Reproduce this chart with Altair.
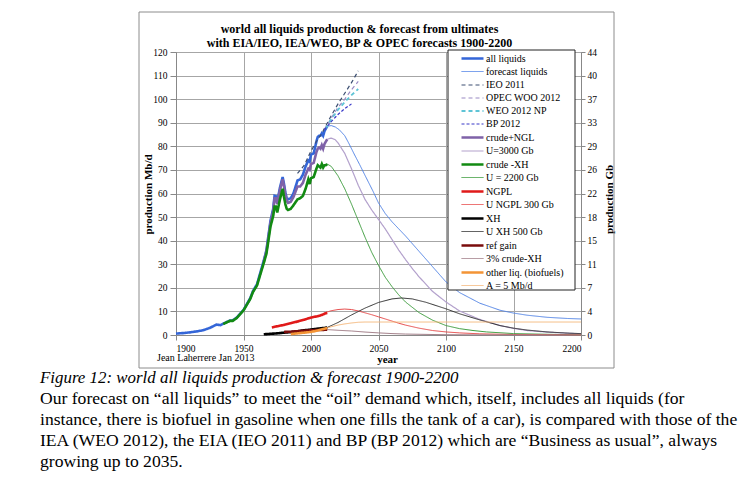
import altair as alt
import pandas as pd

FONT = "Liberation Serif"

title_lines = ["world all liquids production & forecast from ultimates",
               "with EIA/IEO, IEA/WEO, BP & OPEC forecasts 1900-2200"]

series_order = ["all liquids", "forecast liquids", "IEO 2011", "OPEC WOO 2012", "WEO 2012  NP",
                "BP 2012", "crude+NGL", "U=3000 Gb", "crude -XH", "U = 2200 Gb", "NGPL",
                "U NGPL 300 Gb", "XH", "U XH 500 Gb", "ref gain", "3% crude-XH",
                "other liq. (biofuels)", "A = 5 Mb/d"]
colors = ["#3466d8", "#5284e6", "#3c4f72", "#9a8ac4", "#5ec4d6", "#3838c8", "#7f62a8", "#b3a1cc",
          "#128a12", "#3c9c3c", "#e01a1a", "#e64848", "#000000", "#303030", "#7a0c0c", "#a07c86",
          "#f39436", "#f5b77a"]
dashes = [[1, 0], [1, 0], [4, 3], [4, 3], [4, 3], [3, 2], [1, 0], [1, 0], [1, 0], [1, 0], [1, 0],
          [1, 0], [1, 0], [1, 0], [1, 0], [1, 0], [1, 0], [1, 0]]
widths = [2.6, 1.0, 1.2, 1.2, 1.8, 1.2, 2.6, 1.2, 2.6, 1.0, 2.6, 1.0, 2.6, 1.0, 2.6, 1.0, 2.6, 1.0]

# ---- historical (thick) ----
all_liq_years = [1900, 1905, 1910, 1915, 1920, 1925, 1930, 1933, 1935, 1938, 1940, 1942, 1945, 1950,
                 1955, 1957, 1960, 1962, 1965, 1967, 1970, 1972, 1973, 1974, 1975, 1977, 1979, 1980,
                 1981, 1982, 1983, 1985, 1987, 1990, 1992, 1994, 1996, 1998, 1999, 2000, 2002, 2004,
                 2005, 2006, 2007, 2008, 2009, 2010, 2011, 2012]
all_liq_vals = [0.6, 0.8, 1.1, 1.5, 2.0, 3.0, 4.4, 4.2, 4.8, 5.6, 6.1, 6.2, 7.4, 10.6,
                15.6, 18.6, 21.5, 25.5, 31.5, 36.0, 48.5, 53.5, 59.0, 58.8, 56.5, 62.5, 67.0, 64.0,
                60.5, 58.0, 57.5, 58.0, 60.0, 65.5, 66.0, 68.0, 71.5, 74.0, 73.5, 76.5, 77.0, 82.0,
                84.0, 84.5, 84.5, 85.5, 84.5, 86.5, 87.5, 88.5]

crude_ngl_years = [1965, 1967, 1970, 1972, 1973, 1974, 1975, 1977, 1979, 1980, 1981, 1982, 1983, 1985,
                   1987, 1990, 1992, 1994, 1996, 1998, 1999, 2000, 2002, 2004, 2005, 2006, 2007, 2008,
                   2009, 2010, 2011, 2012]
crude_ngl_vals = [31.0, 35.5, 47.5, 52.5, 58.0, 58.0, 55.5, 61.5, 66.0, 63.0, 59.5, 57.0, 56.0, 56.5,
                  58.5, 63.0, 63.0, 64.5, 68.0, 70.5, 70.0, 72.5, 73.0, 77.5, 79.0, 79.5, 79.0, 80.5,
                  79.0, 81.0, 82.0, 83.0]

crude_xh_years = [1935, 1938, 1940, 1942, 1945, 1950, 1955, 1957, 1960, 1962, 1965, 1967, 1970, 1972,
                  1973, 1974, 1975, 1977, 1979, 1980, 1981, 1982, 1983, 1985, 1987, 1990, 1992, 1994,
                  1996, 1998, 1999, 2000, 2002, 2004, 2005, 2006, 2007, 2008, 2009, 2010, 2011, 2012]
crude_xh_vals = [4.6, 5.5, 6.0, 6.0, 7.2, 10.4, 15.3, 18.2, 21.0, 24.8, 30.5, 34.5, 46.0, 50.5,
                 54.5, 54.5, 52.0, 57.5, 62.0, 58.5, 55.5, 53.5, 53.0, 53.5, 55.0, 57.5, 58.0, 59.0,
                 62.0, 66.0, 64.0, 66.5, 67.0, 70.5, 72.0, 71.5, 71.0, 72.5, 71.0, 72.0, 72.0, 72.5]

ngpl_years = [1971, 1975, 1980, 1985, 1990, 1995, 2000, 2005, 2008, 2010, 2012]
ngpl_vals = [3.2, 3.7, 4.3, 5.0, 5.7, 6.5, 7.4, 8.0, 8.5, 9.0, 9.4]

xh_years = [1965, 1970, 1975, 1980, 1985, 1990, 1995, 2000, 2005, 2010, 2012]
xh_vals = [0.3, 0.5, 0.7, 1.0, 1.2, 1.6, 2.0, 2.3, 2.7, 3.0, 3.2]

refgain_years = [1980, 1985, 1990, 1995, 2000, 2005, 2010, 2012]
refgain_vals = [1.3, 1.4, 1.6, 1.8, 2.0, 2.1, 2.2, 2.3]

other_years = [1985, 1990, 1995, 2000, 2005, 2010, 2012]
other_vals = [0.4, 0.7, 1.0, 1.3, 1.9, 2.7, 3.0]

# ---- forecasts (thin) ----
fc_liq_years = [2012, 2015, 2018, 2021, 2025, 2028, 2032, 2036, 2040, 2043, 2046, 2050, 2055, 2060,
                2065, 2070, 2080, 2090, 2100, 2110, 2125, 2140, 2150, 2160, 2175, 2190, 2200]
fc_liq_vals = [88.5, 88.8, 88.2, 87.0, 84.5, 81.3, 76.7, 72.3, 67.7, 64.3, 60.9, 56.0, 51.5, 48.0,
               45.0, 42.0, 35.5, 29.0, 22.5, 18.0, 13.5, 10.5, 9.3, 8.4, 7.5, 7.0, 6.8]

u3000_years = [2012, 2015, 2018, 2020, 2025, 2030, 2035, 2040, 2045, 2050, 2055, 2060, 2065, 2070,
               2075, 2080, 2090, 2100, 2110, 2125, 2140, 2150, 2160, 2175, 2200]
u3000_vals = [83.0, 83.5, 82.8, 81.5, 77.0, 70.5, 63.5, 57.5, 53.0, 49.0, 45.0, 40.5, 36.0, 32.0,
              28.2, 24.7, 18.5, 14.0, 10.2, 6.6, 4.0, 2.8, 1.9, 1.2, 0.5]

u2200_years = [2012, 2015, 2020, 2025, 2030, 2035, 2040, 2045, 2050, 2055, 2060, 2065, 2070, 2080,
               2090, 2100, 2110, 2120, 2130, 2150, 2175, 2200]
u2200_vals = [72.5, 71.5, 67.5, 62.0, 55.5, 48.5, 41.5, 35.0, 29.5, 24.5, 20.5, 17.0, 14.0, 9.5,
              6.3, 4.0, 2.7, 1.9, 1.3, 0.6, 0.3, 0.1]

u_ngpl_years = [2010, 2015, 2020, 2025, 2030, 2035, 2040, 2045, 2050, 2055, 2060, 2065, 2070, 2080,
                2090, 2100, 2110, 2125, 2150, 2200]
u_ngpl_vals = [9.4, 10.3, 10.8, 11.0, 10.8, 10.2, 9.4, 8.6, 7.7, 6.8, 5.9, 5.0, 4.2, 2.9,
               1.9, 1.3, 0.9, 0.5, 0.2, 0.05]

u_xh_years = [2012, 2020, 2030, 2040, 2050, 2060, 2067, 2075, 2085, 2100, 2110, 2125, 2140, 2150,
              2160, 2175, 2190, 2200]
u_xh_vals = [3.2, 5.3, 8.5, 11.4, 13.8, 15.3, 15.7, 15.3, 13.9, 11.1, 9.0, 6.4, 4.0, 2.9,
             2.1, 1.3, 0.8, 0.6]

pct3_years = [2012, 2020, 2030, 2040, 2050, 2060, 2070, 2080, 2100, 2150, 2200]
pct3_vals = [2.3, 2.0, 1.7, 1.25, 0.9, 0.6, 0.4, 0.3, 0.13, 0.02, 0.0]

a5_years = [2012, 2015, 2020, 2025, 2030, 2035, 2040, 2050, 2100, 2150, 2200]
a5_vals = [3.0, 3.5, 4.2, 4.7, 5.1, 5.4, 5.5, 5.5, 5.5, 5.5, 5.5]

# ---- agency forecasts (dashed) ----
ieo_years = [1990, 1995, 2000, 2005, 2008, 2015, 2020, 2025, 2030, 2035]
ieo_vals = [68.5, 72.0, 78.0, 83.0, 85.5, 93.0, 98.0, 102.5, 107.0, 112.0]
opec_years = [2010, 2015, 2020, 2025, 2030, 2035]
opec_vals = [87.0, 92.0, 96.5, 100.0, 104.0, 107.5]
weo_years = [2011, 2015, 2020, 2025, 2030, 2035]
weo_vals = [87.5, 91.5, 95.5, 98.8, 101.7, 104.3]
bp_years = [2010, 2015, 2020, 2025, 2030]
bp_vals = [87.0, 90.5, 93.5, 96.0, 98.0]

right_labels = ["0", "4", "7", "11", "15", "18", "22", "26", "29", "33", "37", "40", "44"]

author_text = "Jean Laherrere Jan 2013"
caption = "Figure 12: world all liquids production & forecast 1900-2200"
paragraph = [
    "Our forecast on \u201call liquids\u201d to meet the \u201coil\u201d demand which, itself, includes all liquids (for",
    "instance, there is biofuel in gasoline when one fills the tank of a car), is compared with those of the",
    "IEA (WEO 2012), the EIA (IEO 2011) and BP (BP 2012) which are \u201cBusiness as usual\u201d, always",
    "growing up to 2035.",
]

# draw order: forecasts, then history, then agency forecasts
draw = [
    ("forecast liquids", fc_liq_years, fc_liq_vals),
    ("U=3000 Gb", u3000_years, u3000_vals),
    ("U = 2200 Gb", u2200_years, u2200_vals),
    ("U NGPL 300 Gb", u_ngpl_years, u_ngpl_vals),
    ("U XH 500 Gb", u_xh_years, u_xh_vals),
    ("3% crude-XH", pct3_years, pct3_vals),
    ("A = 5 Mb/d", a5_years, a5_vals),
    ("all liquids", all_liq_years, all_liq_vals),
    ("crude+NGL", crude_ngl_years, crude_ngl_vals),
    ("crude -XH", crude_xh_years, crude_xh_vals),
    ("NGPL", ngpl_years, ngpl_vals),
    ("XH", xh_years, xh_vals),
    ("ref gain", refgain_years, refgain_vals),
    ("other liq. (biofuels)", other_years, other_vals),
    ("IEO 2011", ieo_years, ieo_vals),
    ("OPEC WOO 2012", opec_years, opec_vals),
    ("WEO 2012  NP", weo_years, weo_vals),
    ("BP 2012", bp_years, bp_vals),
]
rows = []
for k, (name, ys, vs) in enumerate(draw):
    assert len(ys) == len(vs), name
    for y, v in zip(ys, vs):
        rows.append({"series": name, "year": y, "value": v, "ord": k})
df = pd.DataFrame(rows)
one = pd.DataFrame({"k": [0]})

leg = alt.Legend(orient="none", legendX=276, legendY=0, title=None,
                 symbolType="M0.6,0H5.0", symbolSize=100, labelOffset=21,
                 labelFont=FONT, labelFontSize=10, labelColor="black",
                 rowPadding=2.0, padding=0, symbolLimit=30, labelLimit=200)

xscale = alt.Scale(domain=[1900, 2200], nice=False)
yscale = alt.Scale(domain=[0, 120], nice=False)

x_axis = alt.Axis(values=list(range(1900, 2201, 50)), format="d", title="year",
                  labelFont=FONT, labelFontSize=9.5, labelColor="black", labelPadding=3,
                  tickSize=5, tickColor="#888888", domainColor="#888888",
                  gridColor="#a6a6a6", titleFont=FONT, titleFontSize=11, titleFontWeight="bold",
                  titleColor="black", titleX=211, titleY=24, titleBaseline="middle",
                  titleAlign="center")
y_axis = alt.Axis(values=list(range(0, 121, 10)), title="production Mb/d",
                  labelFont=FONT, labelFontSize=9.5, labelColor="black", labelPadding=3,
                  tickSize=6, tickColor="#888888", domainColor="#888888", gridColor="#a6a6a6",
                  titleFont=FONT, titleFontSize=11, titleFontWeight="bold", titleColor="black",
                  titleX=-28, titleY=142, titleAngle=270, titleAlign="center",
                  titleBaseline="middle")
y_axis_r = alt.Axis(values=list(range(0, 121, 10)), orient="right", grid=False,
                    labelExpr=f"{right_labels}[round(datum.value/10)]",
                    title="production Gb",
                    labelFont=FONT, labelFontSize=9.5, labelColor="black", labelPadding=2,
                    tickSize=4, tickColor="#888888", domainColor="#888888",
                    titleFont=FONT, titleFontSize=11, titleFontWeight="bold", titleColor="black",
                    titleX=28, titleY=147, titleAngle=270, titleAlign="center",
                    titleBaseline="middle")

lines = alt.Chart(df).mark_line().encode(
    x=alt.X("year:Q", scale=xscale, axis=x_axis),
    y=alt.Y("value:Q", scale=yscale, axis=y_axis),
    color=alt.Color("series:N", scale=alt.Scale(domain=series_order, range=colors), legend=leg),
    strokeDash=alt.StrokeDash("series:N", scale=alt.Scale(domain=series_order, range=dashes), legend=leg),
    strokeWidth=alt.StrokeWidth("series:N", scale=alt.Scale(type="ordinal", domain=series_order, range=widths), legend=leg),
    order=alt.Order("year:Q"),
)

right = alt.Chart(df).mark_point(opacity=0, size=1).encode(
    x=alt.X("year:Q", scale=xscale),
    y=alt.Y("value:Q", scale=yscale, axis=y_axis_r),
)

legend_box = alt.Chart(one).mark_rect(fill="white", stroke="#222222", strokeWidth=1).encode(
    x=alt.value(272), x2=alt.value(399), y=alt.value(-2), y2=alt.value(238))

frame = alt.Chart(one).mark_rect(fillOpacity=0, stroke="#8c8c8c", strokeWidth=1).encode(
    x=alt.value(-37), x2=alt.value(438), y=alt.value(-40), y2=alt.value(316))

title = alt.Chart(one).mark_text(text=title_lines, font=FONT, fontSize=12, fontWeight="bold",
                                 lineHeight=14, align="center", baseline="alphabetic",
                                 color="black").encode(
    x=alt.value(183.5), y=alt.value(-19.5))

author = alt.Chart(one).mark_text(text=author_text, font=FONT, fontSize=10,
                                  align="left", baseline="middle", color="black").encode(
    x=alt.value(-19), y=alt.value(306))

cap = alt.Chart(one).mark_text(text=caption, font=FONT, fontSize=16.9, fontStyle="italic",
                               align="left", baseline="alphabetic", color="black").encode(
    x=alt.value(-136), y=alt.value(331))

para = alt.Chart(one).mark_text(text=paragraph, font=FONT, fontSize=17.6, lineHeight=21,
                                align="left", baseline="alphabetic", color="black").encode(
    x=alt.value(-136), y=alt.value(352))

chart = alt.layer(lines, right, legend_box, frame, title, author, cap, para).resolve_scale(
    y="independent"
).properties(
    width=405, height=283,
    autosize=alt.AutoSizeParams(type="none"),
    padding={"left": 168, "top": 44, "right": 166, "bottom": 140},
).configure_view(stroke="#a6a6a6")

chart.save("out.html", embed_options={"renderer": "svg", "actions": False})
